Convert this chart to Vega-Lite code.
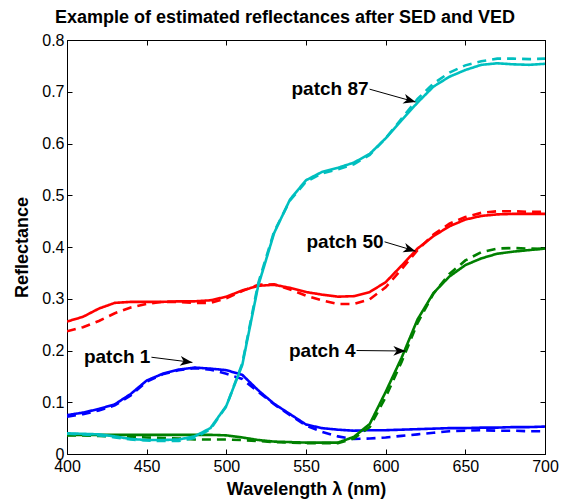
{
  "$schema": "https://vega.github.io/schema/vega-lite/v6.json",
  "autosize": {"type": "none"},
  "width": 478,
  "height": 414,
  "padding": {"left": 67, "top": 40, "right": 18, "bottom": 46},
  "background": "white",
  "config": {
    "view": {"stroke": "black", "strokeWidth": 1},
    "font": "Liberation Sans",
    "axis": {
      "grid": false,
      "domainColor": "black",
      "tickColor": "black",
      "labelColor": "black",
      "titleColor": "black",
      "labelFont": "Liberation Sans",
      "titleFont": "Liberation Sans",
      "labelFontSize": 16,
      "titleFontSize": 18,
      "titleFontWeight": "bold",
      "labelFlush": false,
      "labelOverlap": false,
      "tickSize": -5
    },
    "title": {"font": "Liberation Sans", "fontSize": 18, "fontWeight": "bold", "color": "black"}
  },
  "title": {"text": "Example of estimated reflectances after SED and VED", "anchor": "middle", "dx": -21, "offset": 5},
  "datasets": {
    "curves": [
      {"w":400,"b_s":0.075,"b_d":0.072,"r_s":0.256,"r_d":0.237,"g_s":0.037,"g_d":0.036,"c_s":0.040,"c_d":0.039},
      {"w":410,"b_s":0.080,"b_d":0.077,"r_s":0.265,"r_d":0.245,"g_s":0.037,"g_d":0.036,"c_s":0.039,"c_d":0.038},
      {"w":420,"b_s":0.087,"b_d":0.084,"r_s":0.281,"r_d":0.257,"g_s":0.037,"g_d":0.035,"c_s":0.038,"c_d":0.036},
      {"w":430,"b_s":0.096,"b_d":0.094,"r_s":0.292,"r_d":0.272,"g_s":0.037,"g_d":0.034,"c_s":0.034,"c_d":0.032},
      {"w":440,"b_s":0.116,"b_d":0.113,"r_s":0.294,"r_d":0.283,"g_s":0.037,"g_d":0.033,"c_s":0.029,"c_d":0.028},
      {"w":450,"b_s":0.142,"b_d":0.140,"r_s":0.294,"r_d":0.290,"g_s":0.037,"g_d":0.032,"c_s":0.027,"c_d":0.026},
      {"w":460,"b_s":0.155,"b_d":0.154,"r_s":0.294,"r_d":0.294,"g_s":0.037,"g_d":0.031,"c_s":0.027,"c_d":0.025},
      {"w":470,"b_s":0.163,"b_d":0.162,"r_s":0.295,"r_d":0.294,"g_s":0.037,"g_d":0.030,"c_s":0.028,"c_d":0.025},
      {"w":480,"b_s":0.167,"b_d":0.166,"r_s":0.295,"r_d":0.292,"g_s":0.037,"g_d":0.028,"c_s":0.034,"c_d":0.031},
      {"w":490,"b_s":0.165,"b_d":0.163,"r_s":0.297,"r_d":0.292,"g_s":0.037,"g_d":0.028,"c_s":0.050,"c_d":0.048},
      {"w":500,"b_s":0.162,"b_d":0.155,"r_s":0.304,"r_d":0.301,"g_s":0.036,"g_d":0.028,"c_s":0.093,"c_d":0.092},
      {"w":510,"b_s":0.153,"b_d":0.145,"r_s":0.316,"r_d":0.315,"g_s":0.032,"g_d":0.027,"c_s":0.172,"c_d":0.175},
      {"w":520,"b_s":0.123,"b_d":0.120,"r_s":0.325,"r_d":0.327,"g_s":0.027,"g_d":0.025,"c_s":0.325,"c_d":0.330},
      {"w":530,"b_s":0.097,"b_d":0.096,"r_s":0.327,"r_d":0.328,"g_s":0.024,"g_d":0.023,"c_s":0.427,"c_d":0.430},
      {"w":540,"b_s":0.077,"b_d":0.075,"r_s":0.321,"r_d":0.318,"g_s":0.023,"g_d":0.022,"c_s":0.492,"c_d":0.490},
      {"w":550,"b_s":0.057,"b_d":0.055,"r_s":0.313,"r_d":0.306,"g_s":0.022,"g_d":0.021,"c_s":0.529,"c_d":0.526},
      {"w":560,"b_s":0.050,"b_d":0.043,"r_s":0.308,"r_d":0.297,"g_s":0.022,"g_d":0.021,"c_s":0.545,"c_d":0.542},
      {"w":570,"b_s":0.047,"b_d":0.034,"r_s":0.304,"r_d":0.290,"g_s":0.022,"g_d":0.021,"c_s":0.553,"c_d":0.550},
      {"w":580,"b_s":0.045,"b_d":0.029,"r_s":0.305,"r_d":0.290,"g_s":0.033,"g_d":0.030,"c_s":0.563,"c_d":0.560},
      {"w":590,"b_s":0.046,"b_d":0.030,"r_s":0.313,"r_d":0.299,"g_s":0.058,"g_d":0.052,"c_s":0.580,"c_d":0.578},
      {"w":600,"b_s":0.046,"b_d":0.032,"r_s":0.332,"r_d":0.322,"g_s":0.120,"g_d":0.110,"c_s":0.610,"c_d":0.610},
      {"w":610,"b_s":0.047,"b_d":0.035,"r_s":0.364,"r_d":0.357,"g_s":0.186,"g_d":0.178,"c_s":0.645,"c_d":0.648},
      {"w":620,"b_s":0.048,"b_d":0.038,"r_s":0.397,"r_d":0.394,"g_s":0.260,"g_d":0.253,"c_s":0.679,"c_d":0.686},
      {"w":630,"b_s":0.049,"b_d":0.041,"r_s":0.421,"r_d":0.424,"g_s":0.311,"g_d":0.310,"c_s":0.710,"c_d":0.716},
      {"w":640,"b_s":0.050,"b_d":0.044,"r_s":0.440,"r_d":0.445,"g_s":0.343,"g_d":0.348,"c_s":0.729,"c_d":0.737},
      {"w":650,"b_s":0.050,"b_d":0.045,"r_s":0.453,"r_d":0.458,"g_s":0.365,"g_d":0.374,"c_s":0.742,"c_d":0.751},
      {"w":660,"b_s":0.051,"b_d":0.046,"r_s":0.460,"r_d":0.466,"g_s":0.378,"g_d":0.390,"c_s":0.752,"c_d":0.759},
      {"w":670,"b_s":0.051,"b_d":0.045,"r_s":0.463,"r_d":0.469,"g_s":0.387,"g_d":0.397,"c_s":0.755,"c_d":0.764},
      {"w":680,"b_s":0.052,"b_d":0.045,"r_s":0.464,"r_d":0.469,"g_s":0.391,"g_d":0.398,"c_s":0.753,"c_d":0.764},
      {"w":690,"b_s":0.052,"b_d":0.044,"r_s":0.464,"r_d":0.468,"g_s":0.394,"g_d":0.397,"c_s":0.752,"c_d":0.763},
      {"w":700,"b_s":0.053,"b_d":0.044,"r_s":0.464,"r_d":0.468,"g_s":0.397,"g_d":0.396,"c_s":0.754,"c_d":0.764}
    ],
    "notes": [
      {"label":"patch 87","x1":589.9,"y1":0.705,"x2":618.8,"y2":0.680},
      {"label":"patch 50","x1":599.3,"y1":0.410,"x2":618.8,"y2":0.392},
      {"label":"patch 4","x1":581.7,"y1":0.200,"x2":612.5,"y2":0.199},
      {"label":"patch 1","x1":453.0,"y1":0.187,"x2":478.7,"y2":0.177}
    ]
  },
  "layer": [
    {
      "data": {"name": "curves"},
      "transform": [{"fold": ["b_s","b_d","r_s","r_d","g_s","g_d","c_s","c_d"], "as": ["series","value"]}],
      "mark": {"type": "line", "strokeWidth": 2.6, "clip": true},
      "encoding": {
        "x": {"field": "w", "type": "quantitative", "scale": {"domain": [400,700], "nice": false, "zero": false},
              "axis": {"values": [400,450,500,550,600,650,700], "format": "d", "title": "Wavelength λ (nm)", "labelPadding": 9, "titlePadding": 6, "orient": "bottom"}},
        "y": {"field": "value", "type": "quantitative", "scale": {"domain": [0,0.8], "nice": false},
              "axis": {"values": [0,0.1,0.2,0.3,0.4,0.5,0.6,0.7,0.8], "format": "~g", "title": "Reflectance", "labelPadding": 8, "titlePadding": 10, "orient": "left"}},
        "color": {"field": "series", "type": "nominal", "legend": null,
                  "scale": {"domain": ["b_s","b_d","r_s","r_d","g_s","g_d","c_s","c_d"],
                            "range": ["#0000ff","#0000ff","#ff0000","#ff0000","#008000","#008000","#00bfbf","#00bfbf"]}},
        "strokeDash": {"field": "series", "type": "nominal", "legend": null,
                  "scale": {"domain": ["b_s","b_d","r_s","r_d","g_s","g_d","c_s","c_d"],
                            "range": [[1,0],[9,6],[1,0],[9,6],[1,0],[9,6],[1,0],[9,6]]}},
        "detail": {"field": "series"}
      }
    },
    {
      "data": {"name": "notes"},
      "mark": {"type": "rule", "color": "black", "strokeWidth": 1},
      "encoding": {
        "x": {"field": "x1", "type": "quantitative", "scale": {"domain": [400,700], "nice": false, "zero": false},
              "axis": {"orient": "top", "values": [400,450,500,550,600,650,700], "labels": false, "title": null}},
        "y": {"field": "y1", "type": "quantitative", "scale": {"domain": [0,0.8], "nice": false},
              "axis": {"orient": "right", "values": [0,0.1,0.2,0.3,0.4,0.5,0.6,0.7,0.8], "labels": false, "title": null}},
        "x2": {"field": "x2"},
        "y2": {"field": "y2"}
      }
    },
    {
      "data": {"name": "notes"},
      "transform": [{"calculate": "atan2((datum.y1 - datum.y2) * 414 / 0.8, (datum.x2 - datum.x1) * 478 / 300) * 180 / PI", "as": "angle"}],
      "mark": {"type": "point", "shape": "M0,0L-1,-0.4L-0.72,0L-1,0.4Z", "filled": true, "color": "black", "opacity": 1, "size": 600},
      "encoding": {
        "x": {"field": "x2", "type": "quantitative", "axis": null},
        "y": {"field": "y2", "type": "quantitative", "axis": null},
        "angle": {"field": "angle", "type": "quantitative", "scale": null}
      }
    },
    {
      "data": {"name": "notes"},
      "mark": {"type": "text", "align": "right", "baseline": "middle", "fontSize": 19, "fontWeight": "bold", "font": "Liberation Sans", "color": "black", "dx": -1},
      "encoding": {
        "x": {"field": "x1", "type": "quantitative", "axis": null},
        "y": {"field": "y1", "type": "quantitative", "axis": null},
        "text": {"field": "label"}
      }
    }
  ]
}
